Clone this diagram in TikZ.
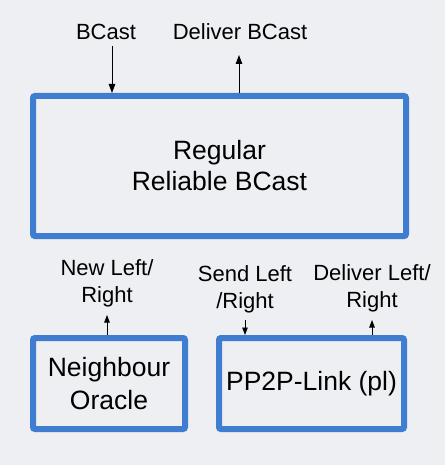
\documentclass[tikz,border=0pt]{standalone}
\usepackage{fontspec}
\setmainfont{Liberation Sans}
\usetikzlibrary{arrows.meta}
\definecolor{boxblue}{RGB}{62,125,207}
\definecolor{bggrey}{RGB}{237,239,242}
\begin{document}
\begin{tikzpicture}[x={(1pt,0)},y={(0,-1pt)},
  blockbox/.style={draw=boxblue,line width=6pt,rounded corners=2pt,inner sep=0pt,align=center,
    font=\fontsize{26.5}{31}\selectfont},
  lbl/.style={inner sep=0pt,align=center,font=\fontsize{22}{27}\selectfont},
  arr/.style={draw=black,line width=0.9pt,-{Triangle[length=9pt,width=6.5pt]}},
  arrsmall/.style={draw=black,line width=0.9pt,-{Triangle[length=7.5pt,width=5.5pt]}}]
\fill[bggrey] (0,0) rectangle (445,465);
\useasboundingbox (0,0) rectangle (445,465);
% boxes
\node[blockbox,minimum width=373pt,minimum height=140pt] (main) at (219.5,166) {Regular\\Reliable BCast};
\node[blockbox,minimum width=152pt,minimum height=91pt,font=\fontsize{26.5}{33}\selectfont] (oracle) at (109,383.5) {Neighbour\\Oracle};
\node[blockbox,minimum width=185pt,minimum height=91pt] (pl) at (311.5,383.5) {PP2P-Link (pl)};
% labels
\node[lbl] (bcast) at (106,32) {BCast};
\node[lbl] (dbcast) at (240,32) {Deliver BCast};
\node[lbl] (newlr) at (107,283) {New Left/\\Right};
\node[lbl] (sendlr) at (245,289) {Send Left\\/Right};
\node[lbl] (delivlr) at (372,288) {Deliver Left/\\Right};
% arrow ends
\coordinate (c1) at (112,46);
\coordinate (c2) at (239,55);
\coordinate (c3) at (107,315);
\coordinate (c4) at (245,320);
\coordinate (c5) at (372,320);
\draw[arr] (c1) -- (c1 |- main.north);
\draw[arr] (c2 |- main.north) -- (c2);
\draw[arrsmall] (c3 |- oracle.north) -- (c3);
\draw[arrsmall] (c4) -- (c4 |- pl.north);
\draw[arrsmall] (c5 |- pl.north) -- (c5);
\end{tikzpicture}
\end{document}
